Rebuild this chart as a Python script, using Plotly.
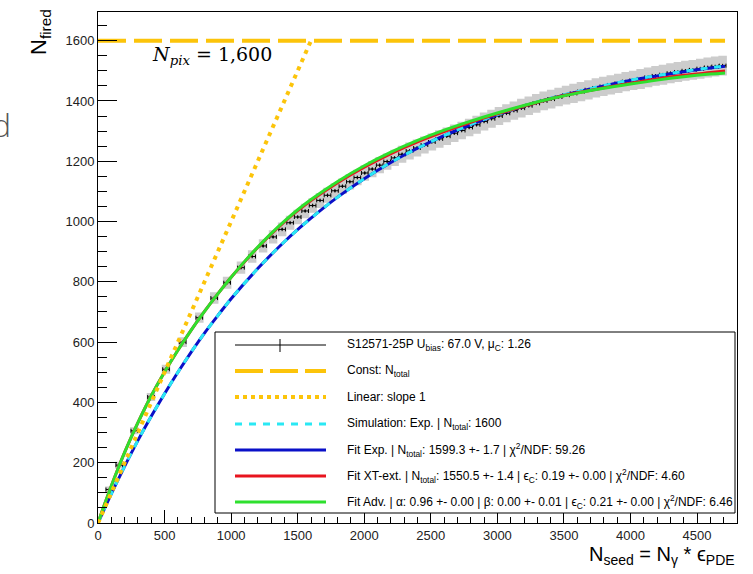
import plotly.graph_objects as go

# ---------------- data ----------------
data_x = [85, 160, 273, 398, 511, 636, 761, 873, 970, 1074, 1158, 1240, 1315, 1383, 1443,
          1500, 1556, 1612, 1668, 1724, 1780, 1836, 1892, 1948, 2004, 2060, 2116, 2172, 2228,
          2284, 2340, 2396, 2452, 2508, 2564, 2620, 2676, 2732, 2788, 2844, 2900, 2956, 3012,
          3068, 3124, 3180, 3236, 3292, 3348, 3404, 3460, 3516, 3572, 3628, 3684, 3740, 3796,
          3852, 3908, 3964, 4020, 4076, 4132, 4188, 4244, 4300, 4356, 4412, 4468, 4524, 4580,
          4636, 4692]
data_y = [111, 192, 306, 418, 510, 600, 681, 746, 797, 847, 884, 919, 949, 974, 996,
          1015, 1035, 1053, 1070, 1087, 1102, 1117, 1132, 1146, 1161, 1174, 1187, 1199, 1211,
          1223, 1234, 1244, 1254, 1264, 1274, 1283, 1293, 1302, 1312, 1321, 1332, 1341, 1350,
          1359, 1368, 1376, 1384, 1392, 1400, 1406, 1413, 1419, 1425, 1431, 1437, 1443, 1448,
          1453, 1458, 1464, 1468, 1473, 1478, 1483, 1487, 1492, 1496, 1500, 1503, 1507, 1511,
          1514, 1517]
# systematic (gray box) half heights
data_sys = [10, 11, 12, 13, 15, 16, 17, 19, 20, 20, 21, 22, 22, 23, 23,
            24, 24, 24, 25, 25, 25, 26, 26, 26, 26, 27, 27, 27, 27, 28, 28, 28, 28, 28,
            29, 29, 29, 29, 29, 30, 30, 30, 30, 30, 30, 31, 31, 31, 31, 31, 31, 31,
            32, 32, 32, 32, 32, 32, 32, 32, 32, 33, 33, 33, 33, 33, 33, 33, 33, 33, 33, 33, 33]
data_ex = 25      # horizontal uncertainty (black bars)
data_sys_ex = 32  # horizontal extent of the gray systematic boxes
data_stat = 6     # statistical y uncertainty

const_x = [0, 4710]
const_y = [1600, 1600]

linear_x = [0, 1600]
linear_y = [0, 1600]

exp_x = [0, 100, 200, 300, 400, 500, 600, 700, 800, 900, 1000, 1200, 1400, 1600, 1800, 2000,
         2200, 2400, 2600, 2800, 3000, 3200, 3400, 3600, 3800, 4000, 4200, 4400, 4600, 4710]
sim_y = [0, 97, 188, 274, 354, 429, 500, 567, 630, 688, 744, 844, 933, 1011, 1081, 1142,
         1196, 1243, 1285, 1322, 1355, 1384, 1409, 1431, 1451, 1469, 1484, 1498, 1510, 1516]
fitexp_y = [0, 97, 188, 274, 354, 429, 500, 567, 630, 688, 744, 844, 933, 1011, 1081, 1142,
            1196, 1243, 1285, 1321, 1354, 1383, 1408, 1430, 1450, 1468, 1483, 1497, 1509, 1515]

adv_x = [0, 50, 100, 150, 200, 250, 300, 400, 500, 600, 700, 800, 900, 1000, 1100, 1200, 1300,
         1400, 1500, 1600, 1800, 2000, 2200, 2400, 2600, 2800, 3000, 3200, 3400, 3600, 3800,
         4000, 4200, 4400, 4600, 4710]
adv_y = [0, 63, 123, 180, 234, 285, 333, 422, 501, 573, 640, 702, 760, 815, 867, 915, 960,
         1001, 1039, 1073, 1133, 1185, 1230, 1269, 1303, 1333, 1360, 1385, 1407, 1426, 1442,
         1456, 1469, 1480, 1489, 1493]
xt_y = [0, 63, 123, 180, 234, 285, 333, 422, 501, 573, 640, 702, 760, 815, 866, 914, 958,
        999, 1036, 1070, 1129, 1180, 1225, 1264, 1298, 1329, 1357, 1383, 1407, 1427, 1444,
        1459, 1473, 1485, 1494, 1499]

legend_labels = [
    "S12571-25P U<sub>bias</sub>: 67.0 V, μ<sub>C</sub>: 1.26",
    "Const: N<sub>total</sub>",
    "Linear: slope 1",
    "Simulation: Exp. | N<sub>total</sub>: 1600",
    "Fit Exp. | N<sub>total</sub>: 1599.3 +- 1.7 | χ<sup>2</sup>/NDF: 59.26",
    "Fit XT-ext. | N<sub>total</sub>: 1550.5 +- 1.4 | ϵ<sub>C</sub>: 0.19 +- 0.00 | χ<sup>2</sup>/NDF: 4.60",
    "Fit Adv. | α: 0.96 +- 0.00 | β: 0.00 +- 0.01 | ϵ<sub>C</sub>: 0.21 +- 0.00 | χ<sup>2</sup>/NDF: 6.46",
]

# ---------------- styles ----------------
ORANGE = "#fcc40a"
CYAN = "#2ae8f4"
BLUE = "#0a10c8"
RED = "#e8141e"
GREEN = "#2ee02e"
GRAY = "#cccccc"
FONT = "Liberation Sans, Arial, sans-serif"

W, H = 753, 574
ML, MR, MT, MB = 98, 16, 12, 51
PW, PH = W - ML - MR, H - MT - MB


def px(x):
    return (x - ML) / PW


def py(y):
    return (H - MB - y) / PH


fig = go.Figure()

# gray systematic boxes
bx, by = [], []
for x, y, e in zip(data_x, data_y, data_sys):
    bx += [x - data_sys_ex, x + data_sys_ex, x + data_sys_ex, x - data_sys_ex, x - data_sys_ex, None]
    by += [y - e, y - e, y + e, y + e, y - e, None]
fig.add_trace(go.Scatter(x=bx, y=by, mode="lines", fill="toself", fillcolor=GRAY,
                         line=dict(width=0, color=GRAY), hoverinfo="skip"))

# data points
fig.add_trace(go.Scatter(
    x=data_x, y=data_y, mode="markers",
    marker=dict(size=2, color="black"),
    error_x=dict(type="constant", value=data_ex, width=2, thickness=1, color="black"),
    error_y=dict(type="constant", value=data_stat, width=0, thickness=1, color="black"),
))

# constant
fig.add_trace(go.Scatter(x=const_x, y=const_y, mode="lines",
                         line=dict(color=ORANGE, width=4, dash="28px,8px")))
# fit exp (blue) then simulation (cyan dashed on top)
fig.add_trace(go.Scatter(x=exp_x, y=fitexp_y, mode="lines",
                         line=dict(color=BLUE, width=3, shape="spline")))
fig.add_trace(go.Scatter(x=exp_x, y=sim_y, mode="lines",
                         line=dict(color=CYAN, width=3, dash="7px,7px", shape="spline")))
# XT-ext (red) and Adv (green)
fig.add_trace(go.Scatter(x=adv_x, y=xt_y, mode="lines",
                         line=dict(color=RED, width=3, shape="spline")))
fig.add_trace(go.Scatter(x=adv_x, y=adv_y, mode="lines",
                         line=dict(color=GREEN, width=3, shape="spline")))
# linear dotted
fig.add_trace(go.Scatter(x=linear_x, y=linear_y, mode="lines",
                         line=dict(color=ORANGE, width=4, dash="4px,5px")))

axis_common = dict(
    showline=True, mirror=True, linecolor="black", linewidth=1,
    showgrid=False, zeroline=False, ticks="inside", tickcolor="black", tickwidth=1,
    tickfont=dict(family=FONT, size=13, color="#222"),
)
fig.update_xaxes(range=[0, 4800], tick0=0, dtick=500, ticklen=13,
                 minor=dict(dtick=100, ticklen=6, ticks="inside", tickcolor="black", showgrid=False),
                 **axis_common)
fig.update_yaxes(range=[0, 1695], tick0=0, dtick=200, ticklen=19,
                 minor=dict(dtick=50, ticklen=9, ticks="inside", tickcolor="black", showgrid=False),
                 **axis_common)

shapes = []
annotations = []

# legend box
shapes.append(dict(type="rect", xref="paper", yref="paper",
                   x0=px(215), x1=px(735), y0=py(513), y1=py(332),
                   line=dict(color="black", width=1), fillcolor="white", layer="above"))
rows = [345, 371, 397, 424, 450, 476, 502]
sx0, sx1 = px(235), px(326)
styles = [
    dict(color="black", width=1),
    dict(color=ORANGE, width=4, dash="28px,7px"),
    dict(color=ORANGE, width=4, dash="4px,4px"),
    dict(color=CYAN, width=3, dash="7px,7px"),
    dict(color=BLUE, width=3),
    dict(color=RED, width=3),
    dict(color=GREEN, width=3),
]
for r, st, lab in zip(rows, styles, legend_labels):
    shapes.append(dict(type="line", xref="paper", yref="paper", x0=sx0, x1=sx1,
                       y0=py(r), y1=py(r), line=st, layer="above"))
    annotations.append(dict(xref="paper", yref="paper", x=px(345), y=py(r), xanchor="left",
                            yanchor="middle", text=lab, showarrow=False,
                            font=dict(family=FONT, size=12, color="black")))
# error tick for data legend
shapes.append(dict(type="line", xref="paper", yref="paper", x0=px(280), x1=px(280),
                   y0=py(339), y1=py(352), line=dict(color="black", width=1), layer="above"))

# N_pix label
annotations.append(dict(xref="x", yref="y", x=390, y=1552, xanchor="left", yanchor="middle",
                        text="<i>N</i><sub><i>pix</i></sub> = 1,600", showarrow=False,
                        font=dict(family="DejaVu Serif, serif", size=19, color="black")))
# axis titles
annotations.append(dict(xref="paper", yref="paper", x=1.0, y=py(541), xanchor="right",
                        yanchor="top", showarrow=False,
                        text="N<sub>seed</sub> = N<sub>γ</sub> * ϵ<sub>PDE</sub>",
                        font=dict(family=FONT, size=20, color="black")))
annotations.append(dict(xref="paper", yref="paper", x=px(40), y=py(7), xanchor="center",
                        yanchor="top", showarrow=False, textangle=-90,
                        text="N<sub>fired</sub>",
                        font=dict(family=FONT, size=22, color="black")))
# cut-off letter at left edge
annotations.append(dict(xref="paper", yref="paper", x=px(13), y=py(124), xanchor="right",
                        yanchor="middle", showarrow=False, text="d",
                        font=dict(family="Open Sans, sans-serif", size=32, color="#555", weight=300)))

fig.update_layout(width=W, height=H, margin=dict(l=ML, r=MR, t=MT, b=MB),
                  plot_bgcolor="white", paper_bgcolor="white", showlegend=False,
                  shapes=shapes, annotations=annotations)

fig.write_html("out.html")
